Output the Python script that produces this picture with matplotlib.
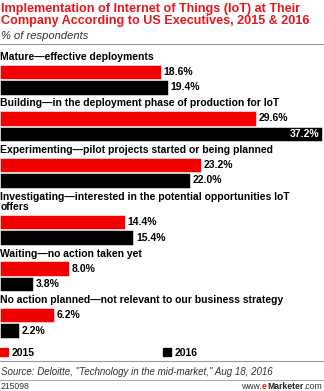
import matplotlib.pyplot as plt
import matplotlib.patches as mpatches

plt.rcParams['font.family'] = ['Liberation Sans', 'DejaVu Sans']

categories = [
    "Mature\u2014effective deployments",
    "Building\u2014in the deployment phase of production for IoT",
    "Experimenting\u2014pilot projects started or being planned",
    "Investigating\u2014interested in the potential opportunities IoT\noffers",
    "Waiting\u2014no action taken yet",
    "No action planned\u2014not relevant to our business strategy",
]
vals_2015 = [18.6, 29.6, 23.2, 14.4, 8.0, 6.2]
vals_2016 = [19.4, 37.2, 22.0, 15.4, 3.8, 2.2]
years = ["2015", "2016"]

RED = "#f20000"
TITLE_RED = "#e3171d"
W, H = 324, 391
PX = 322 / 37.2  # pixels per percentage point

fig = plt.figure(figsize=(W / 100, H / 100), dpi=100)
ax = fig.add_axes([0, 0, 1, 1])
ax.set_xlim(0, W / PX)
ax.set_ylim(H, 0)
ax.axis('off')

# title block
fig.text(1 / W, 1 - 3 / H, "Implementation of Internet of Things (IoT) at Their\nCompany According to US Executives, 2015 & 2016",
         color=TITLE_RED, fontsize=9.1, fontweight='bold', va='top', ha='left', linespacing=0.98)
fig.text(1 / W, 1 - 31 / H, "% of respondents", fontsize=8, style='italic', va='top', ha='left', color='#333333')
ax.plot([0, 40], [44, 44], color='#999999', lw=0.8)

bh = 14.5
fs = 7.5
y = 57.0
for cat, a, b in zip(categories, vals_2015, vals_2016):
    extra = 11 * cat.count("\n")
    ax.text(0.05, y + extra / 2, cat, fontsize=fs, fontweight='bold', va='center', ha='left',
            linespacing=1.0)
    r = y + 15 + extra
    k = r + 15.5
    ax.barh(r, a, height=bh, color=RED, edgecolor='white', linewidth=0.4)
    ax.barh(k, b, height=bh, color='black', edgecolor='white', linewidth=0.4)
    ax.text(a + 0.3, r, f"{a:.1f}%", fontsize=fs, fontweight='bold', va='center', ha='left')
    if b > 33:
        ax.text(b - 0.3, k, f"{b:.1f}%", fontsize=fs, fontweight='bold', va='center', ha='right',
                color='white')
    else:
        ax.text(b + 0.3, k, f"{b:.1f}%", fontsize=fs, fontweight='bold', va='center', ha='left')
    y += 46.4 + extra

# legend
for x0, col, lab in [(0.0, RED, years[0]), (163 / PX, 'black', years[1])]:
    ax.add_patch(mpatches.Rectangle((x0, 348), 8 / PX, 8, color=col))
    ax.text(x0 + 12 / PX, 352.5, lab, fontsize=fs, fontweight='bold', va='center', ha='left')

ax.plot([0, 40], [361, 361], color='#999999', lw=0.8)
fig.text(1 / W, 1 - 372 / H, 'Source: Deloitte, "Technology in the mid-market," Aug 18, 2016',
         fontsize=7, style='italic', va='center', ha='left', color='#333333')
ax.plot([0, 40], [380, 380], color='#999999', lw=0.6)
fig.text(1 / W, 1 - 389 / H, "215098", fontsize=6.2, va='baseline', ha='left', color='#333333')

# footer url, chained right to left from the figure edge
prev = fig.text(1 - 2 / W, 1 - 389 / H, ".com", fontsize=6.2, va='baseline', ha='right', color='#333333')
for s, c, w in [("Marketer", '#222222', 'bold'), ("e", TITLE_RED, 'bold'), ("www.", '#333333', 'normal')]:
    prev = ax.annotate(s, xy=(0, 0), xycoords=prev, fontsize=6.2, fontweight=w, color=c,
                       va='bottom', ha='right')

fig.savefig("out.png", dpi=100)
